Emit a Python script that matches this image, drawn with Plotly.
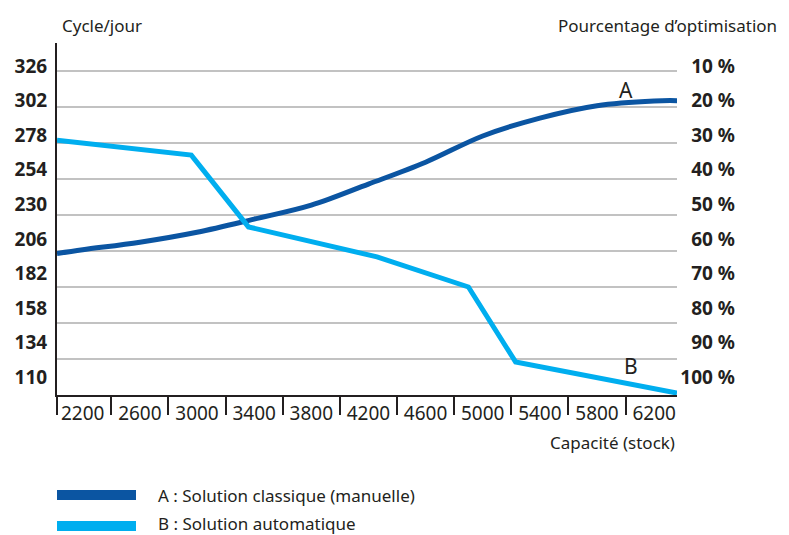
import plotly.graph_objects as go

# ---------------- data ----------------
capacity_ticks = [2200, 2600, 3000, 3400, 3800, 4200, 4600, 5000, 5400, 5800, 6200]
capacity_bounds = [2400, 2800, 3200, 3600, 4000, 4400, 4800, 5200, 5600, 6000]
cycle_ticks = [326, 302, 278, 254, 230, 206, 182, 158, 134, 110]
pct_ticks = ["10 %", "20 %", "30 %", "40 %", "50 %", "60 %", "70 %", "80 %", "90 %", "100 %"]

capacity_A = [2020, 2200, 2600, 3000, 3400, 3800, 4200, 4600, 5000, 5400, 5800, 6200, 6360]
cycles_A = [196.0, 198.6, 203.8, 210.7, 219.8, 229.5, 244.1, 259.3, 277.5, 289.9, 298.5, 301.8, 302.0]

capacity_B = [2020, 2960, 3360, 4260, 4900, 5230, 6360]
cycles_B = [274.6, 264.2, 214.4, 193.6, 172.7, 120.7, 99.1]

# ---------------- layout constants ----------------
W, H = 789, 535
ML, MR, MT, MB = 57, 44, 43, 140
PW, PH = W - ML - MR, H - MT - MB
X_RANGE = [2020, 6360]
Y_RANGE = [97.76, 342]
GRID_VALS = [122.76 + 25 * i for i in range(9)]

DARK = "#0b55a2"
LIGHT = "#00aeef"
TXT = "#231f20"
FONT = "Noto Sans"


def px(x):
    return (x - ML) / PW


def py(y):
    return (H - MB - y) / PH


fig = go.Figure()
fig.add_trace(go.Scatter(x=capacity_A, y=cycles_A, mode="lines",
                         line=dict(color=DARK, width=5, shape="spline", smoothing=1.0),
                         showlegend=False, hoverinfo="skip"))
fig.add_trace(go.Scatter(x=capacity_B, y=cycles_B, mode="lines",
                         line=dict(color=LIGHT, width=5),
                         showlegend=False, hoverinfo="skip"))
# invisible anchor trace for right axis
fig.add_trace(go.Scatter(x=[capacity_A[0]], y=[cycle_ticks[0]], yaxis="y2", mode="markers",
                         marker=dict(opacity=0), showlegend=False, hoverinfo="skip"))

fig.update_layout(
    width=W, height=H,
    margin=dict(l=ML, r=MR, t=MT, b=MB, autoexpand=False),
    paper_bgcolor="white", plot_bgcolor="white",
    font=dict(family=FONT, color=TXT),
    xaxis=dict(
        domain=[0, (677 - ML) / PW],
        range=X_RANGE, tickmode="array", tickvals=capacity_ticks,
        ticktext=[str(v) for v in capacity_ticks],
        ticks="", showgrid=False, zeroline=False,
        showline=True, linecolor=TXT, linewidth=2,
        tickfont=dict(size=19, color=TXT), ticklabelstandoff=0,
        minor=dict(tickmode="array", tickvals=[X_RANGE[0] + 1] + capacity_bounds,
                   ticks="outside", ticklen=18, tickwidth=2, tickcolor=TXT, showgrid=False),
    ),
    yaxis=dict(
        range=Y_RANGE, tickmode="array", tickvals=cycle_ticks,
        ticktext=[str(v) for v in cycle_ticks],
        ticks="", showgrid=False, zeroline=False,
        showline=True, linecolor=TXT, linewidth=2,
        tickfont=dict(size=19, color=TXT, weight="bold"), ticklabelstandoff=4,
        minor=dict(tickmode="array", tickvals=GRID_VALS, showgrid=True,
                   gridcolor="#c2c2c2", gridwidth=1.5, ticks=""),
    ),
    yaxis2=dict(
        overlaying="y", side="right", anchor="free", position=(738 - ML) / PW,
        range=Y_RANGE, tickmode="array", tickvals=cycle_ticks, ticktext=pct_ticks,
        ticks="", showgrid=False, zeroline=False, showline=False,
        ticklabelposition="inside",
        tickfont=dict(size=19, color=TXT, weight="bold"),
    ),
)

annotations = [
    dict(text="Cycle/jour", x=px(60), y=py(25), xanchor="left", yanchor="middle", font_size=17),
    dict(text="Pourcentage d’optimisation", x=px(779), y=py(25), xanchor="right", yanchor="middle", font_size=17),
    dict(text="Capacité (stock)", x=px(677), y=py(442), xanchor="right", yanchor="middle", font_size=17),
    dict(text="A : Solution classique (manuelle)", x=px(156), y=py(495), xanchor="left", yanchor="middle", font_size=17),
    dict(text="B : Solution automatique", x=px(156), y=py(523), xanchor="left", yanchor="middle", font_size=17),
]
for a in annotations:
    fig.add_annotation(xref="paper", yref="paper", showarrow=False, font_color=TXT, **a)

fig.add_annotation(x=6000, y=309.3, xref="x", yref="y", text="A", showarrow=False,
                   font=dict(size=21, color=TXT))
fig.add_annotation(x=6040, y=117.7, xref="x", yref="y", text="B", showarrow=False,
                   font=dict(size=21, color=TXT))

for ypix, col in [(495, DARK), (526, LIGHT)]:
    fig.add_shape(type="line", xref="paper", yref="paper",
                  x0=px(57), x1=px(136), y0=py(ypix), y1=py(ypix),
                  line=dict(color=col, width=10))

fig.write_html("out.html", config={"displayModeBar": False},
               post_script="document.body.style.margin='0';document.body.style.overflow='hidden';")
